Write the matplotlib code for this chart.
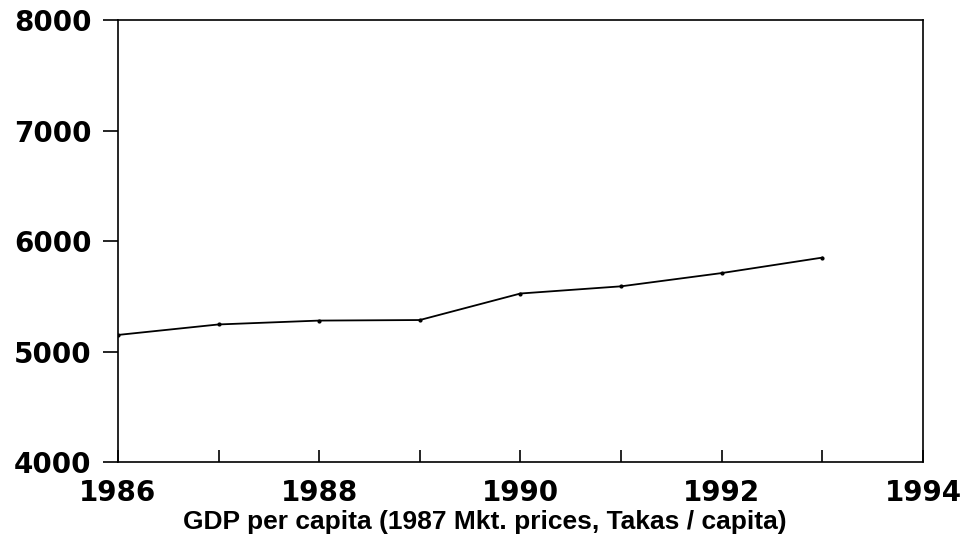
import matplotlib
matplotlib.use("Agg")
import matplotlib.pyplot as plt
from matplotlib.ticker import MultipleLocator

# GDP per capita, Bangladesh (1987 market prices, Takas / capita)
years = [1986, 1987, 1988, 1989, 1990, 1991, 1992, 1993]
gdp_pc = [5150, 5245, 5280, 5285, 5525, 5590, 5710, 5850]

fig = plt.figure(figsize=(9.7, 5.44), dpi=100)
ax = fig.add_axes([0.1216, 0.1507, 0.8299, 0.8125])

ax.plot(years, gdp_pc, color="black", linewidth=1.3, marker="o", markersize=2.0)

ax.xaxis.set_minor_locator(MultipleLocator(1))

tick_font = dict(family="DejaVu Sans", weight="bold", size=20)
xt = [1986, 1988, 1990, 1992, 1994]
yt = [4000, 5000, 6000, 7000, 8000]
ax.set_xticks(xt)
ax.set_xticklabels([str(t) for t in xt], **tick_font)
ax.set_yticks(yt)
ax.set_yticklabels([str(t) for t in yt], **tick_font)
ax.set_xlim(1986, 1994)
ax.set_ylim(4000, 8000)

ax.tick_params(axis="y", direction="out", length=11, width=1.2, pad=8)
ax.tick_params(axis="x", which="both", direction="in", length=9, width=1.2, pad=12)
for s in ax.spines.values():
    s.set_linewidth(1.2)

ax.set_xlabel("GDP per capita (1987 Mkt. prices, Takas / capita)",
              family="Liberation Sans", weight="bold", size=19)
ax.xaxis.set_label_coords(0.456, -0.108)

fig.savefig("out.png", dpi=100)
